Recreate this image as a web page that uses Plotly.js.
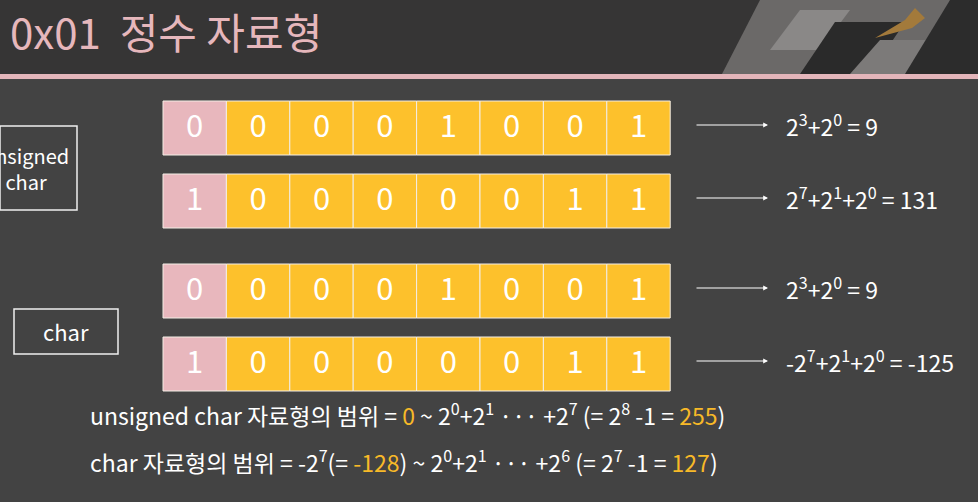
<!DOCTYPE html>
<html>
<head>
<meta charset="utf-8">
<script src="https://cdn.plot.ly/plotly-3.0.1.min.js"></script>
<style>html,body{margin:0;padding:0;background:#434343;}</style>
</head>
<body>
<div id="chart" style="width:978px;height:502px;"></div>
<script>
// bit patterns, one per row
var rowBits = [
  [0, 0, 0, 0, 1, 0, 0, 1],
  [1, 0, 0, 0, 0, 0, 1, 1],
  [0, 0, 0, 0, 1, 0, 0, 1],
  [1, 0, 0, 0, 0, 0, 1, 1]
];
var rowTop = [101, 174, 264, 337];
var rowResults = [
  "2<sup>3</sup>+2<sup>0</sup> = 9",
  "2<sup>7</sup>+2<sup>1</sup>+2<sup>0</sup> = 131",
  "2<sup>3</sup>+2<sup>0</sup> = 9",
  "-2<sup>7</sup>+2<sup>1</sup>+2<sup>0</sup> = -125"
];
var groupLabels = ["unsigned<br>char", "char"];

var cellX0 = 163, cellW = 63.4, cellH = 54;
var font = "Noto Sans CJK KR, Noto Sans, sans-serif";
var yellow = "#fdc12c", pink = "#e8b7bd", hi = "#f7b928";

var shapes = [], tx = [], ty = [], tt = [], annotations = [];

// header band and pink rule
shapes.push({type: "rect", xref: "x", yref: "y", x0: 0, x1: 978, y0: 0, y1: 74, fillcolor: "#363535", line: {width: 0}, layer: "below"});
shapes.push({type: "rect", xref: "x", yref: "y", x0: 0, x1: 978, y0: 74, y1: 79, fillcolor: "#e3b5ba", line: {width: 0}, layer: "below"});
// keyboard picture, roughly
shapes.push({type: "path", xref: "x", yref: "y", path: "M 722 74 L 760 0 L 978 0 L 978 74 Z", fillcolor: "#6b6968", line: {width: 0}, layer: "below"});
shapes.push({type: "path", xref: "x", yref: "y", path: "M 770 50 L 800 10 L 850 10 L 820 50 Z", fillcolor: "#8a8887", line: {width: 0}, layer: "below"});
shapes.push({type: "path", xref: "x", yref: "y", path: "M 800 74 L 835 22 L 905 22 L 870 74 Z", fillcolor: "#2a2a2a", line: {width: 0}, layer: "below"});
shapes.push({type: "path", xref: "x", yref: "y", path: "M 850 74 L 880 40 L 940 40 L 910 74 Z", fillcolor: "#7c7a79", line: {width: 0}, layer: "below"});
shapes.push({type: "path", xref: "x", yref: "y", path: "M 905 74 L 950 0 L 978 0 L 978 74 Z", fillcolor: "#2c2c2c", line: {width: 0}, layer: "below"});
shapes.push({type: "path", xref: "x", yref: "y", path: "M 875 38 L 905 20 L 915 8 L 925 18 L 912 28 Z", fillcolor: "#a37a3b", line: {width: 0}, layer: "below"});

rowBits.forEach(function (bits, r) {
  var y0 = rowTop[r];
  bits.forEach(function (b, i) {
    var x0 = cellX0 + i * cellW;
    shapes.push({type: "rect", xref: "x", yref: "y", x0: x0, x1: x0 + cellW, y0: y0, y1: y0 + cellH, layer: "below",
      fillcolor: i === 0 ? pink : yellow, line: {color: "#f4eee6", width: 1}});
    tx.push(x0 + cellW / 2); ty.push(y0 + cellH / 2 + 1); tt.push(String(b));
  });
  var yc = y0 + cellH / 2 - 3;
  annotations.push({x: 768, y: yc, ax: 695, ay: yc, xref: "x", yref: "y", axref: "x", ayref: "y",
    showarrow: true, arrowhead: 2, arrowsize: 0.8, arrowwidth: 1.2, arrowcolor: "#ffffff", text: ""});
  annotations.push({x: 784, y: yc, xref: "x", yref: "y", xanchor: "left", yanchor: "middle", showarrow: false,
    text: rowResults[r], font: {family: font, size: 23, color: "#ffffff"}});
});

// group label boxes
shapes.push({type: "rect", xref: "x", yref: "y", x0: 0, x1: 77, y0: 126, y1: 210, line: {color: "#f0f0f0", width: 1.5}, layer: "below"});
shapes.push({type: "rect", xref: "x", yref: "y", x0: 14, x1: 118, y0: 309, y1: 354, line: {color: "#f0f0f0", width: 1.5}, layer: "below"});
annotations.push({x: 71, y: 168, xref: "x", yref: "y", xanchor: "right", showarrow: false, text: groupLabels[0], align: "center",
  font: {family: font, size: 20, color: "#ffffff"}});
annotations.push({x: 66, y: 331, xref: "x", yref: "y", showarrow: false, text: groupLabels[1],
  font: {family: font, size: 22, color: "#ffffff"}});

// title
annotations.push({x: 8, y: 30, xref: "x", yref: "y", xanchor: "left", showarrow: false, text: "0x01  정수 자료형",
  font: {family: font, size: 42, color: "#e6b7bc"}});

// range lines
function c(s) { return "<span style='color:" + hi + "'>" + s + "</span>"; }
annotations.push({x: 88, y: 414, xref: "x", yref: "y", xanchor: "left", showarrow: false,
  text: "unsigned char 자료형의 범위 = " + c("0") + " ~ 2<sup>0</sup>+2<sup>1</sup> ··· +2<sup>7</sup> (= 2<sup>8</sup> -1 = " + c("255") + ")",
  font: {family: font, size: 23, color: "#ffffff"}});
annotations.push({x: 88, y: 461, xref: "x", yref: "y", xanchor: "left", showarrow: false,
  text: "char 자료형의 범위 = -2<sup>7</sup>(= " + c("-128") + ") ~ 2<sup>0</sup>+2<sup>1</sup> ··· +2<sup>6</sup> (= 2<sup>7</sup> -1 = " + c("127") + ")",
  font: {family: font, size: 23, color: "#ffffff"}});

var trace = {type: "scatter", mode: "text", x: tx, y: ty, text: tt, hoverinfo: "skip",
  textfont: {family: font, size: 31, color: "#ffffff"}};

var layout = {
  width: 978, height: 502,
  margin: {l: 0, r: 0, t: 0, b: 0},
  paper_bgcolor: "#434343", plot_bgcolor: "#434343",
  xaxis: {range: [0, 978], visible: false, fixedrange: true},
  yaxis: {range: [502, 0], visible: false, fixedrange: true},
  showlegend: false,
  shapes: shapes,
  annotations: annotations
};

Plotly.newPlot("chart", [trace], layout, {displayModeBar: false});
</script>
</body>
</html>
